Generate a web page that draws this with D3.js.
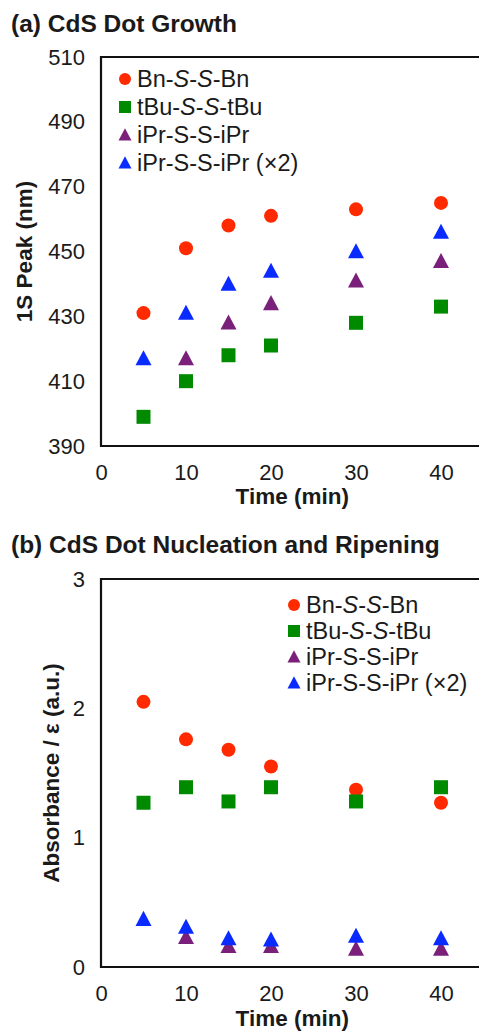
<!DOCTYPE html>
<html>
<head>
<meta charset="utf-8">
<script src="https://cdn.jsdelivr.net/npm/d3@7"></script>
<style>
  html, body { margin: 0; padding: 0; background: #fff; }
  svg { display: block; }
  text { font-family: "Liberation Sans", Arial, Helvetica, sans-serif; fill: #1a1a1a; }
</style>
</head>
<body>
<svg id="chart" width="479" height="1031"></svg>
<script>
// ---- Data ----
const times = [5, 10, 15, 20, 30, 40];
const seriesNames = ["Bn-S-S-Bn", "tBu-S-S-tBu", "iPr-S-S-iPr", "iPr-S-S-iPr (\u00d72)"];
const peakBn   = [431, 451, 458, 461, 463, 465];
const peakTBu  = [399, 410, 418, 421, 428, 433];
const peakIPr  = [null, 417, 428, 434, 441, 447];
const peakIPr2 = [417, 431, 440, 444, 450, 456];
const absBn    = [2.05, 1.76, 1.68, 1.55, 1.37, 1.27];
const absTBu   = [1.27, 1.39, 1.28, 1.39, 1.28, 1.39];
const absIPr   = [null, 0.23, 0.16, 0.16, 0.14, 0.14];
const absIPr2  = [0.37, 0.31, 0.22, 0.21, 0.24, 0.22];
const xTicks = [0, 10, 20, 30, 40];
const peakTicks = [390, 410, 430, 450, 470, 490, 510];
const absTicks = [0, 1, 2, 3];

// ---- Styles ----
const colors = ["#ff2a00", "#008a00", "#7a1f7a", "#0a2bff"];
const FS = 22;
const LEG_FS = 23.5;

const svg = d3.select("#chart");

const triangleType = {
  draw(ctx, size) {
    const w = Math.sqrt(size), h = w * 0.94;
    ctx.moveTo(0, -h * 0.55);
    ctx.lineTo(w / 2, h * 0.45);
    ctx.lineTo(-w / 2, h * 0.45);
    ctx.closePath();
  }
};

function symbolPath(i, px) {
  if (i === 0) return d3.symbol(d3.symbolCircle, Math.PI * (px / 2) * (px / 2))();
  if (i === 1) return d3.symbol(d3.symbolSquare, px * px)();
  return d3.symbol(triangleType, px * px)();
}

function labelWithItalicS(sel, name) {
  const italic = name.startsWith("Bn") || name.startsWith("tBu");
  name.split(/(S)/).forEach(p => {
    if (!p) return;
    const t = sel.append("tspan").text(p);
    if (p === "S" && italic) t.attr("font-style", "italic");
  });
}

function panel(opts) {
  const { title, titleY, top, bottom, yDomain, yTicks, yLabel, yLabelX, xLabelY, data, legendX, legendY, legendStep } = opts;
  const left = 101;
  const x = d3.scaleLinear().domain([0, 45]).range([left, 483.5]);
  const y = d3.scaleLinear().domain(yDomain).range([bottom, top]);
  const g = svg.append("g");

  g.append("text").attr("x", 11).attr("y", titleY)
    .attr("font-size", 24.5).attr("font-weight", "bold").text(title);

  // frame (left, bottom, top; right edge falls off-canvas)
  g.append("path")
    .attr("d", `M${x(45)},${top}H${left}V${bottom}H${x(45)}V${top}`)
    .attr("fill", "none").attr("stroke", "#111").attr("stroke-width", 2.2);

  const yAxis = d3.axisLeft(y).tickValues(yTicks).tickSize(0).tickPadding(16).tickFormat(d3.format("d"));
  const ya = g.append("g").attr("transform", `translate(${left},0)`).call(yAxis);
  ya.select(".domain").remove();
  ya.selectAll("text").attr("font-size", FS).attr("font-family", null).attr("fill", "#1a1a1a");

  const xAxis = d3.axisBottom(x).tickValues(xTicks).tickSize(0).tickPadding(18.5).tickFormat(d3.format("d"));
  const xa = g.append("g").attr("transform", `translate(0,${bottom})`).call(xAxis);
  xa.select(".domain").remove();
  xa.selectAll("text").attr("font-size", FS).attr("font-family", null).attr("fill", "#1a1a1a");

  g.append("text").attr("x", (x(0) + x(45)) / 2).attr("y", xLabelY)
    .attr("text-anchor", "middle").attr("font-size", 22.5).attr("font-weight", "bold").text("Time (min)");

  g.append("text").attr("transform", `translate(${yLabelX},${(top + bottom) / 2}) rotate(-90)`)
    .attr("text-anchor", "middle").attr("dy", "0.35em").attr("font-size", 22.5).attr("font-weight", "bold").text(yLabel);

  data.forEach((vals, i) => {
    const pts = times.map((t, k) => ({ t, v: vals[k] })).filter(d => d.v != null);
    g.append("g").selectAll("path").data(pts).join("path")
      .attr("transform", d => `translate(${x(d.t)},${y(d.v)})`)
      .attr("d", symbolPath(i, i >= 2 ? 16 : 14))
      .attr("fill", colors[i]);
  });

  const lg = g.append("g");
  seriesNames.forEach((name, i) => {
    const cy = legendY + i * legendStep;
    lg.append("path").attr("transform", `translate(${legendX},${cy})`)
      .attr("d", symbolPath(i, i >= 2 ? 13 : 12)).attr("fill", colors[i]);
    const t = lg.append("text").attr("x", legendX + 12).attr("y", cy).attr("dy", "0.36em")
      .attr("font-size", LEG_FS);
    labelWithItalicS(t, name);
  });
}

panel({
  title: "(a) CdS Dot Growth", titleY: 32, top: 57, bottom: 446,
  yDomain: [390, 510], yTicks: peakTicks, yLabel: "1S Peak (nm)", yLabelX: 24, xLabelY: 504,
  data: [peakBn, peakTBu, peakIPr, peakIPr2],
  legendX: 125, legendY: 79, legendStep: 28
});

panel({
  title: "(b) CdS Dot Nucleation and Ripening", titleY: 553, top: 579, bottom: 967,
  yDomain: [0, 3], yTicks: absTicks, yLabel: "Absorbance / \u03b5 (a.u.)", yLabelX: 51, xLabelY: 1026,
  data: [absBn, absTBu, absIPr, absIPr2],
  legendX: 294, legendY: 605, legendStep: 26
});
</script>
</body>
</html>
